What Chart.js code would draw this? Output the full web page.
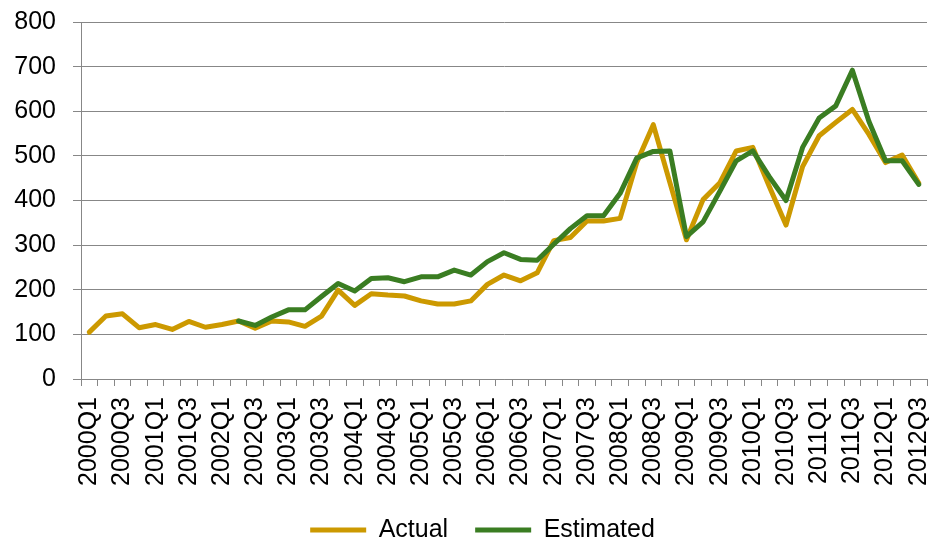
<!DOCTYPE html>
<html>
<head>
<meta charset="utf-8">
<script src="https://cdn.jsdelivr.net/npm/chart.js@4.4.1/dist/chart.umd.min.js"></script>
<style>
  html, body { margin: 0; padding: 0; background: #fff; }
  #wrap { width: 929px; height: 541px; }
</style>
</head>
<body>
<div id="wrap"><canvas id="chart"></canvas></div>
<script>
const QUARTERS = [
  "2000Q1", "2000Q2", "2000Q3", "2000Q4",
  "2001Q1", "2001Q2", "2001Q3", "2001Q4",
  "2002Q1", "2002Q2", "2002Q3", "2002Q4",
  "2003Q1", "2003Q2", "2003Q3", "2003Q4",
  "2004Q1", "2004Q2", "2004Q3", "2004Q4",
  "2005Q1", "2005Q2", "2005Q3", "2005Q4",
  "2006Q1", "2006Q2", "2006Q3", "2006Q4",
  "2007Q1", "2007Q2", "2007Q3", "2007Q4",
  "2008Q1", "2008Q2", "2008Q3", "2008Q4",
  "2009Q1", "2009Q2", "2009Q3", "2009Q4",
  "2010Q1", "2010Q2", "2010Q3", "2010Q4",
  "2011Q1", "2011Q2", "2011Q3", "2011Q4",
  "2012Q1", "2012Q2", "2012Q3",
];

const ACTUAL = [
  105, 141, 146, 115, 122, 111, 129, 116, 122, 130, 114, 130,
  128, 118, 141, 199, 165, 191, 188, 186, 175, 168, 168, 175,
  212, 233, 220, 238, 310, 317, 354, 354, 360, 485, 570, 440,
  312, 402, 439, 511, 519, 431, 345, 476, 545, 575, 604, 548,
  485, 502, 439,
];

// estimates only start in 2002Q2
const ESTIMATED = [
  null, null, null, null, null, null, null, null, null, 130, 120, 139,
  155, 155, 185, 214, 197, 225, 227, 218, 229, 229, 244, 233,
  263, 283, 268, 266, 302, 337, 366, 366, 416, 495, 510, 511,
  319, 352, 420, 489, 511, 453, 400, 519, 585, 612, 692, 577,
  489, 489, 436,
];

const Y_MIN = 0;
const Y_MAX = 800;
const Y_STEP = 100;

const GOLD = "#cc9900";
const GREEN = "#3a7d22";
const AXIS_GREY = "#878787";
const FONT = { family: "'Liberation Sans', Arial, sans-serif", size: 25 };

const LEGEND_GAP = 27;

function lineSet(label, data, color, order) {
  return {
    label,
    data,
    borderColor: color,
    backgroundColor: color,
    borderWidth: 5,
    borderJoinStyle: "round",
    borderCapStyle: "round",
    tension: 0,
    pointRadius: 0,
    pointHoverRadius: 0,
    pointStyle: "line",
    spanGaps: false,
    order,
  };
}

// legend sits a little right of the canvas centre
const legendNudge = {
  id: "legendNudge",
  afterLayout(chart) {
    if (chart.legend) chart.legend.left += 38;
  },
};

new Chart(document.getElementById("chart"), {
  type: "line",
  data: {
    labels: QUARTERS,
    datasets: [
      lineSet("Actual", ACTUAL, GOLD, 1),
      lineSet("Estimated", ESTIMATED, GREEN, 0),
    ],
  },
  plugins: [legendNudge],
  options: {
    responsive: true,
    maintainAspectRatio: false,
    animation: false,
    events: [],
    layout: { padding: { top: 22, right: 2, left: 0, bottom: -11.5 } },
    scales: {
      x: {
        type: "category",
        offset: true,
        afterFit: (s) => {
          s.height = 138.5 - LEGEND_GAP;
          s.paddingLeft = 0;
          s.paddingRight = 0;
        },
        border: { display: true, color: AXIS_GREY, width: 1 },
        grid: {
          offset: true,
          drawOnChartArea: false,
          drawTicks: true,
          tickLength: 7,
          color: AXIS_GREY,
        },
        ticks: {
          autoSkip: false,
          maxRotation: 90,
          minRotation: 90,
          padding: 11,
          color: "#000",
          font: FONT,
          callback: (v, i) => (i % 2 === 0 ? QUARTERS[i] : ""),
        },
      },
      y: {
        min: Y_MIN,
        max: Y_MAX,
        afterFit: (s) => {
          s.width = 81;
          s.paddingTop = 0;
          s.paddingBottom = 0;
        },
        border: { display: true, color: AXIS_GREY, width: 1 },
        grid: {
          color: AXIS_GREY,
          lineWidth: 1,
          tickLength: 8,
        },
        ticks: {
          stepSize: Y_STEP,
          padding: 17,
          color: "#000",
          font: FONT,
        },
      },
    },
    plugins: {
      tooltip: { enabled: false },
      legend: {
        position: "bottom",
        labels: {
          usePointStyle: true,
          pointStyleWidth: 56,
          padding: LEGEND_GAP,
          color: "#000",
          font: FONT,
          sort: (a, b) => a.datasetIndex - b.datasetIndex,
        },
      },
    },
  },
});
</script>
</body>
</html>
